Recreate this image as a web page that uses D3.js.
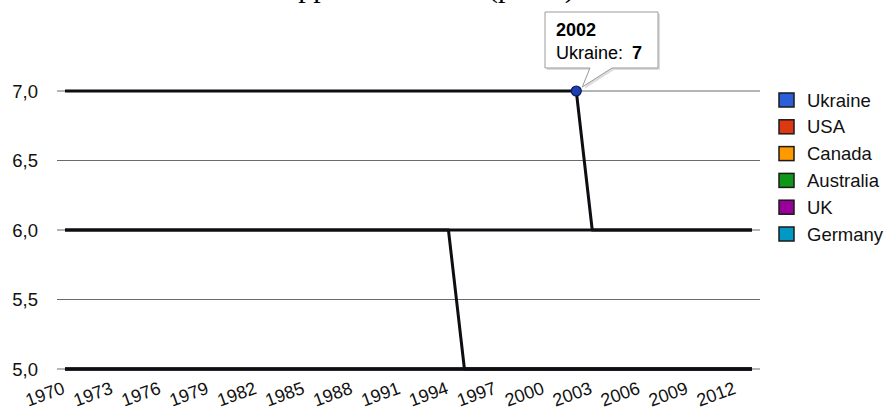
<!DOCTYPE html>
<html>
<head>
<meta charset="utf-8">
<script src="https://cdn.jsdelivr.net/npm/d3@7"></script>
<style>
  html, body { margin: 0; padding: 0; background: #fff; }
  svg { display: block; }
</style>
</head>
<body>
<svg id="chart" width="885" height="409"></svg>
<script>
// ---- data ----
const years = d3.range(1970, 2014);               // 1970 … 2013
const tickYears = d3.range(1970, 2013, 3);        // 1970, 1973 … 2012
const yTicks = [5, 5.5, 6, 6.5, 7];
const seriesNames = ["Ukraine", "USA", "Canada", "Australia", "UK", "Germany"];
const seriesColors = ["#2a5fd8", "#dc3912", "#ff9900", "#109618", "#990099", "#0099c6"];
const ukraine   = years.map(y => y <= 2002 ? 7 : 6);
const usa       = years.map(() => 6);
const canada    = years.map(() => 5);
const australia = years.map(y => y <= 1994 ? 6 : 5);
const uk        = years.map(() => 5);
const germany   = years.map(() => 5);
const seriesValues = [ukraine, usa, canada, australia, uk, germany];
const tooltipYear = 2002;
const tooltipSeries = 0;

(function () {
  const svg = d3.select("#chart");
  const mLeft = 57, mRight = 760, mTop = 91, mBottom = 369;
  const FONT = "'Liberation Sans', Arial, sans-serif";
  const FS = 18.5;

  const x = d3.scalePoint().domain(years).range([mLeft, mRight]).padding(0.5);
  const y = d3.scaleLinear().domain([5, 7]).range([mBottom, mTop]);

  // partial caption text from the document above the chart (cut off at the top edge)
  const cap = svg.append("text")
    .attr("y", -3)
    .attr("font-family", "'Liberation Serif', 'Times New Roman', serif")
    .attr("font-size", 30)
    .attr("fill", "#000");
  cap.append("tspan").attr("x", 15).text("At the mouse cursor");
  cap.append("tspan").attr("x", 285).text("appears");
  cap.append("tspan").attr("x", 397).text("near it");
  cap.append("tspan").attr("x", 488).text("(pic. 7)");

  // gridlines
  svg.append("g").selectAll("line").data(yTicks).join("line")
    .attr("x1", mLeft).attr("x2", mRight)
    .attr("y1", d => y(d)).attr("y2", d => y(d))
    .attr("stroke", "#6a6a6a").attr("stroke-width", 1);

  // y labels
  svg.append("g").selectAll("text").data(yTicks).join("text")
    .attr("x", 38).attr("y", d => y(d) + 6.5)
    .attr("text-anchor", "end")
    .attr("font-family", FONT)
    .attr("font-size", FS).attr("fill", "#111")
    .text(d => d3.format(".1f")(d).replace(".", ","));

  // x labels (slanted)
  svg.append("g").selectAll("text").data(tickYears).join("text")
    .attr("transform", d => `translate(${x(d) + 1},${393}) rotate(-20)`)
    .attr("text-anchor", "end")
    .attr("font-family", FONT)
    .attr("font-size", 18).attr("fill", "#111")
    .text(d => d);

  // series lines
  const line = d3.line().x((d, i) => x(years[i])).y(d => y(d));
  const drawOrder = [5, 4, 3, 2, 1, 0];
  svg.append("g").selectAll("path").data(drawOrder).join("path")
    .attr("d", i => line(seriesValues[i]))
    .attr("fill", "none")
    .attr("stroke", "#0d0d12")
    .attr("stroke-width", 3)
    .attr("stroke-linejoin", "round");

  // highlighted point
  const px = x(tooltipYear), py = y(seriesValues[tooltipSeries][years.indexOf(tooltipYear)]);
  svg.append("circle")
    .attr("cx", px).attr("cy", py).attr("r", 5)
    .attr("fill", "#1d3fb0").attr("stroke", "#0a1a5c").attr("stroke-width", 1.2);

  // tooltip
  const bx0 = 545, by0 = 12, bx1 = 658, by1 = 68;
  const tipPath = `M${bx0},${by0} H${bx1} V${by1} H${612} L${px + 6},${py - 4} L${590},${by1} H${bx0} Z`;
  svg.append("path").attr("d", tipPath)
    .attr("transform", "translate(2,2)")
    .attr("fill", "#cfcfcf").attr("opacity", 0.7);
  svg.append("path").attr("d", tipPath)
    .attr("fill", "#fff").attr("stroke", "#9a9a9a").attr("stroke-width", 1);
  svg.append("text")
    .attr("x", 556).attr("y", 36)
    .attr("font-family", FONT)
    .attr("font-size", 18).attr("font-weight", "bold").attr("fill", "#000")
    .text(tooltipYear);
  const t2 = svg.append("text")
    .attr("x", 556).attr("y", 59)
    .attr("font-family", FONT)
    .attr("font-size", 18).attr("fill", "#000");
  t2.append("tspan").text(seriesNames[tooltipSeries] + ":");
  t2.append("tspan").attr("dx", 9).attr("font-weight", "bold")
    .text(seriesValues[tooltipSeries][years.indexOf(tooltipYear)]);

  // legend
  const lg = svg.append("g").selectAll("g").data(seriesNames).join("g")
    .attr("transform", (d, i) => `translate(779,${100 + i * 26.8})`);
  lg.append("rect")
    .attr("x", 0).attr("y", -7).attr("width", 15).attr("height", 14)
    .attr("fill", (d, i) => seriesColors[i])
    .attr("stroke", "#1a1a1a").attr("stroke-width", 1.5);
  lg.append("text")
    .attr("x", 28).attr("y", 6.5)
    .attr("font-family", FONT)
    .attr("font-size", FS).attr("fill", "#111")
    .text(d => d);
})();
</script>
</body>
</html>
